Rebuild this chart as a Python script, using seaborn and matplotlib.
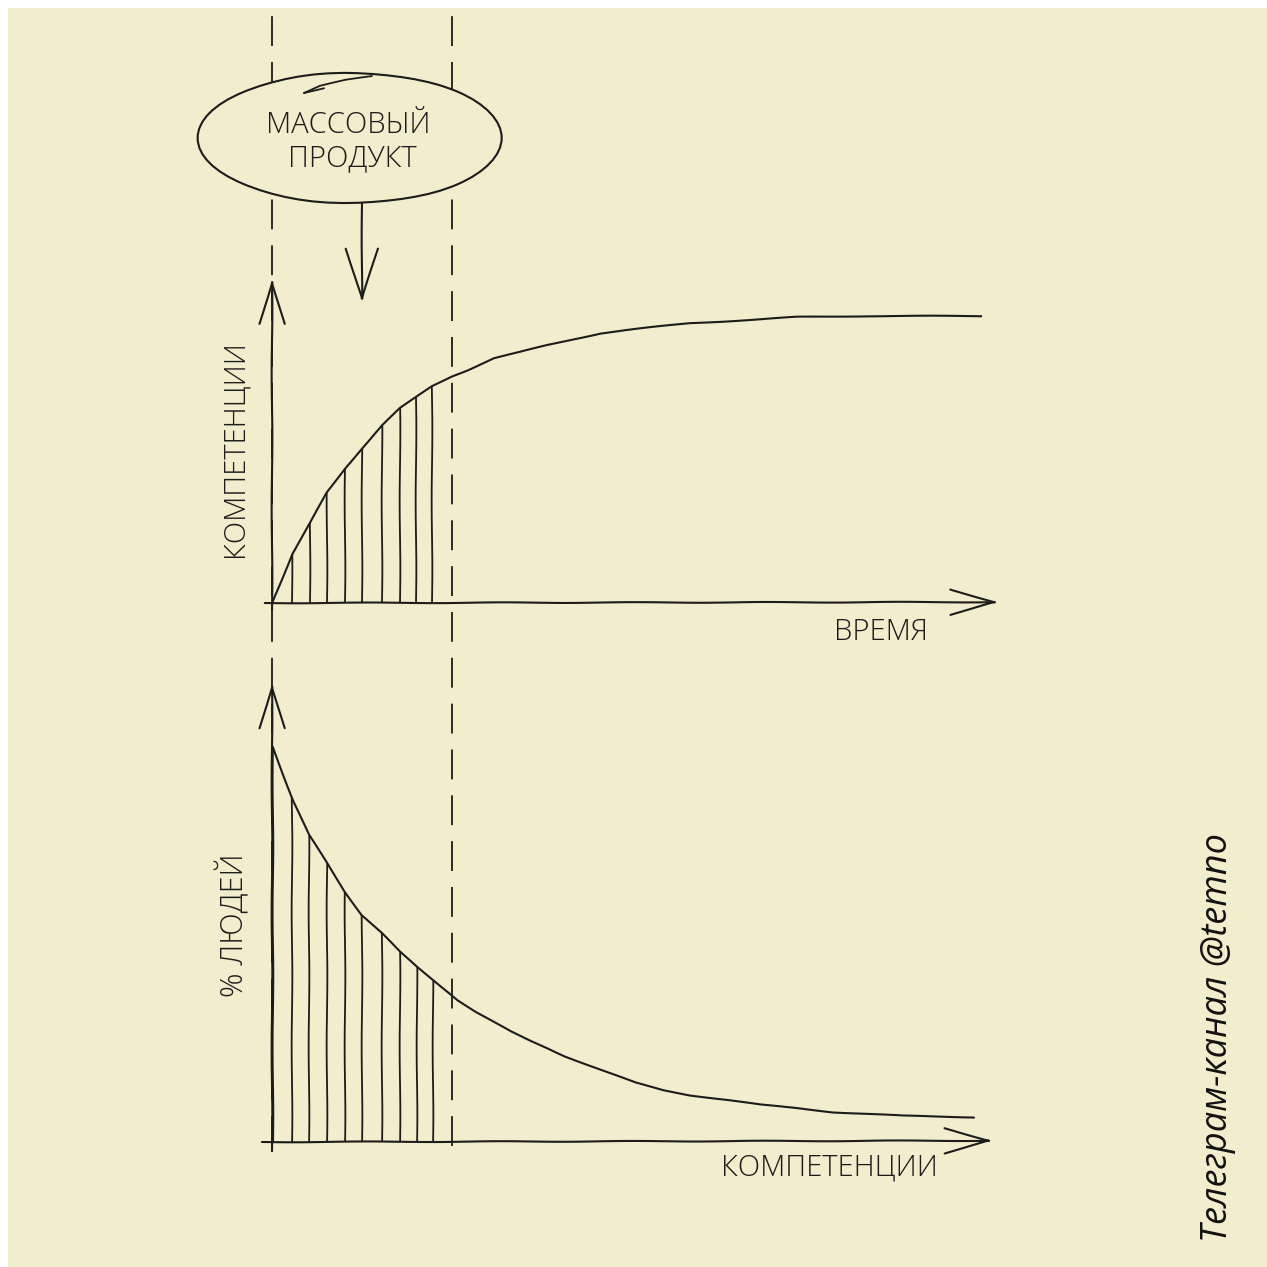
import numpy as np
import matplotlib
matplotlib.use("Agg")
import matplotlib.pyplot as plt
from matplotlib.patches import Ellipse, Rectangle
import seaborn as sns

# ---------------- data ----------------
# upper chart: competence grows with time
time = [0, 2.8, 5.3, 7.6, 10.1, 12.4, 15.2, 17.7, 19.9, 22.1, 24.9, 27.0,
        30.7, 34.3, 38.0, 41.8, 45.5, 49.1, 52.8, 57.8, 62.8, 67.6, 72.6,
        82.6, 98.1]
competence = [0, 15.1, 24.7, 34.0, 41.4, 47.5, 54.6, 59.9, 63.3, 66.7, 69.8,
              71.6, 75.3, 77.2, 79.3, 81.2, 83.0, 84.0, 84.9, 86.1, 86.7,
              87.3, 88.0, 88.3, 88.3]
hatch_time = [2.8, 5.3, 7.6, 10.1, 12.4, 15.2, 17.7, 19.9, 22.1]
mass_product_end = 24.9

# lower chart: share of people by competence level
comp_level = [0.1, 2.9, 5.1, 7.6, 10.1, 12.4, 15.2, 17.7, 20.1, 22.3, 24.5,
              25.7, 28.2, 30.7, 33.1, 35.5, 38.0, 40.5, 43.0, 46.7, 50.3,
              54.1, 57.8, 62.8, 67.6, 72.6, 77.6, 82.6, 87.4, 97.1]
people_pct = [86.1, 74.5, 66.9, 60.8, 54.5, 49.5, 45.5, 41.4, 38.1, 35.3, 32.5,
              30.9, 28.3, 26.1, 24.0, 22.2, 20.5, 18.7, 17.2, 15.0, 12.9,
              11.3, 10.2, 9.2, 8.1, 7.4, 6.5, 6.1, 5.7, 5.4]
hatch_comp = [0.1, 2.8, 5.1, 7.6, 10.1, 12.4, 15.2, 17.7, 20.1, 22.3]

top_xlabel = "ВРЕМЯ"
top_ylabel = "КОМПЕТЕНЦИИ"
bottom_xlabel = "КОМПЕТЕНЦИИ"
bottom_ylabel = "% ЛЮДЕЙ"
bubble_line1 = "МАССОВЫЙ"
bubble_line2 = "ПРОДУКТ"
credit = "Телеграм-канал @temno"

# ---------------- style ----------------
sns.set_theme(style="white")
plt.rcParams['font.family'] = ['Open Sans', 'DejaVu Sans']
plt.rcParams['lines.scale_dashes'] = False
plt.rcParams['path.sketch'] = (0.35, 140, 1.5)

INK = "#1c1c1a"
PAPER = "#F2EDCC"
W = H = 1267

fig = plt.figure(figsize=(12.67, 12.67), dpi=100, facecolor="white")
bg = Rectangle((8 / W, 0), 1 - 8 / W, 1 - 8 / H, transform=fig.transFigure,
               facecolor=PAPER, edgecolor='none', zorder=-10)
bg.set_sketch_params(None)
fig.patches.append(bg)

ax_top = fig.add_axes([272 / W, 1 - 603 / H, 723 / W, 325 / H])
ax_bot = fig.add_axes([272 / W, 1 - 1142 / H, 723 / W, 459 / H])
for ax in (ax_top, ax_bot):
    ax.set_xlim(0, 100)
    ax.set_ylim(0, 100)
    ax.axis('off')
    ax.patch.set_alpha(0)
    ax.set_zorder(1)


def axis_arrow(ax, start, end, hl=3.2, hw=0.9):
    ax.annotate("", xy=end, xytext=start, xycoords='data', textcoords='data',
                arrowprops=dict(arrowstyle=f"->,head_length={hl},head_width={hw}",
                                color=INK, lw=1.5, shrinkA=0, shrinkB=0,
                                mutation_scale=10),
                annotation_clip=False)


# upper chart
sns.lineplot(x=time, y=competence, ax=ax_top, color=INK, lw=1.5,
             sort=False, estimator=None)
ax_top.vlines(hatch_time, 0, np.interp(hatch_time, time, competence),
              color=INK, lw=1.3)
axis_arrow(ax_top, (-1.0, 0), (100.5, 0.3))
axis_arrow(ax_top, (0, -2.5), (0, 99.8), hl=3.0)

# guide (dashed) lines spanning the whole sheet
ymin = (603 - 1146) / 325
ymax = (603 - 8) / 325
for xv in (0, mass_product_end):
    ln = ax_top.axvline(xv, ymin=ymin, ymax=ymax, color=INK, lw=1.3,
                        dashes=(21.5, 11.5), clip_on=False)
    ln.set_sketch_params(None)

# lower chart
sns.lineplot(x=comp_level, y=people_pct, ax=ax_bot, color=INK, lw=1.5,
             sort=False, estimator=None)
ax_bot.vlines(hatch_comp, -1.5, np.interp(hatch_comp, comp_level, people_pct),
              color=INK, lw=1.3)
axis_arrow(ax_bot, (-1.4, 0), (99.7, 0.3))
axis_arrow(ax_bot, (0, -2.0), (0, 100), hl=3.0)

# ---------------- annotations overlay ----------------
ax_over = fig.add_axes([0, 0, 1, 1])
ax_over.set_xlim(0, W)
ax_over.set_ylim(H, 0)
ax_over.axis('off')
ax_over.set_zorder(5)

ax_over.add_patch(Ellipse((350, 138), 304, 130, facecolor=PAPER,
                          edgecolor=INK, lw=1.5))
ax_over.plot([372, 346, 320, 304], [76, 80, 86, 93], color=INK, lw=1.3)
ax_over.plot([304, 324], [93, 88], color=INK, lw=1.3)

txt_kw = dict(color=INK, ha='center', va='center', fontweight='light')
ax_over.text(348, 125, bubble_line1, fontsize=21, **txt_kw)
ax_over.text(352, 159, bubble_line2, fontsize=21, **txt_kw)

ax_over.annotate("", xy=(362, 302), xytext=(362, 203),
                 arrowprops=dict(arrowstyle="->,head_length=3.6,head_width=1.15",
                                 color=INK, lw=1.5, shrinkA=0, shrinkB=0,
                                 mutation_scale=10))

ax_over.text(881, 632, top_xlabel, fontsize=21, **txt_kw)
ax_over.text(829, 1168, bottom_xlabel, fontsize=21, **txt_kw)
ax_over.text(235, 449, top_ylabel, fontsize=21, rotation=90, **txt_kw)
ax_over.text(234, 925, bottom_ylabel, fontsize=22, rotation=90, **txt_kw)

ax_over.text(1218, 1037, credit, fontsize=26, rotation=90, style='italic',
             color="#111111", ha='center', va='center')

fig.savefig("out.png", dpi=100, facecolor="white")
